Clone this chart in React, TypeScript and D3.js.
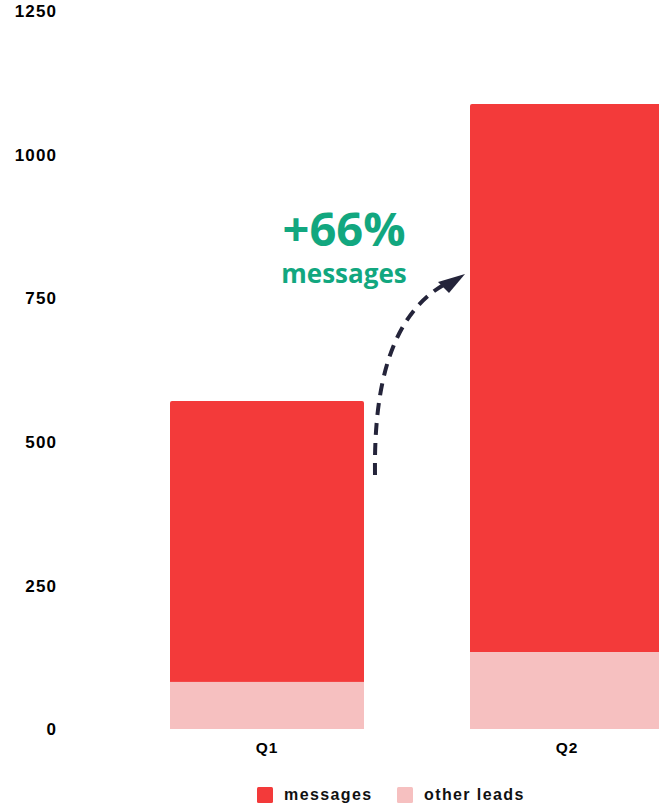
import React from "react";
import * as d3 from "d3";

const categories = ["Q1", "Q2"];
const messages = [489, 954];
const otherLeads = [82, 134];
const yTicks = [0, 250, 500, 750, 1000, 1250];
const seriesNames = ["messages", "other leads"];
const seriesColors = ["#f33a3a", "#f6c0c0"];

const W = 659;
const H = 804;

export default function App() {
  const x = d3.scaleBand<string>().domain(categories).range([170, 664]).paddingInner(106 / 300).paddingOuter(0);
  const y = d3.scaleLinear().domain([0, 1250]).range([729, 11]);
  const bw = x.bandwidth();

  const stack = categories.map((c, i) => ({
    c,
    other: [0, otherLeads[i]],
    msg: [otherLeads[i], otherLeads[i] + messages[i]],
  }));

  const arrowPath = "M375,475 C374,400 385,318 445,284";

  return (
    <svg width={W} height={H} style={{ position: "absolute", left: 0, top: 0 }} fontFamily="'Liberation Sans', Arial, sans-serif">
      <defs>
        <clipPath id="clip">
          <rect x={0} y={0} width={W} height={H} />
        </clipPath>
      </defs>
      {yTicks.map((t) => (
        <text key={t} x={57} y={y(t)} dy="0.36em" textAnchor="end" fontSize={17} fontWeight={700} letterSpacing={1.1} fill="#000">
          {t}
        </text>
      ))}
      <g clipPath="url(#clip)">
        {stack.map((s) => (
          <g key={s.c}>
            <path
              d={`M${x(s.c)},${y(s.msg[0])} V${y(s.msg[1]) + 2} Q${x(s.c)},${y(s.msg[1])} ${x(s.c)! + 2},${y(s.msg[1])} H${x(s.c)! + bw - 2} Q${x(s.c)! + bw},${y(s.msg[1])} ${x(s.c)! + bw},${y(s.msg[1]) + 2} V${y(s.msg[0])} Z`}
              fill={seriesColors[0]}
            />
            <rect x={x(s.c)} y={y(s.other[1])} width={bw} height={y(s.other[0]) - y(s.other[1])} fill={seriesColors[1]} />
          </g>
        ))}
      </g>
      {categories.map((c) => (
        <text key={c} x={x(c)! + bw / 2} y={753} textAnchor="middle" fontSize={15.5} fontWeight={700} letterSpacing={0.9} fill="#000">
          {c}
        </text>
      ))}
      {/* annotation */}
      <text x={344} y={246} textAnchor="middle" fontFamily="'Open Sans', sans-serif" fontWeight={700} fontSize={47} fill="#12a77f">
        +66%
      </text>
      <text x={344} y={283} textAnchor="middle" fontFamily="'Open Sans', sans-serif" fontWeight={700} fontSize={26} fill="#12a77f">
        messages
      </text>
      <path d={arrowPath} fill="none" stroke="#24243a" strokeWidth={4} strokeDasharray="12 8" />
      <path d="M465,274 L438,282 L449,293 Z" fill="#24243a" />
      {/* legend */}
      {seriesNames.map((n, i) => {
        const lx = i === 0 ? 257 : 397;
        return (
          <g key={n}>
            <rect x={lx} y={787} width={16} height={16} rx={1.5} fill={seriesColors[i]} />
            <text x={lx + 27} y={800} fontSize={16} fontWeight={700} letterSpacing={1.4} fill="#111">
              {n}
            </text>
          </g>
        );
      })}
    </svg>
  );
}
